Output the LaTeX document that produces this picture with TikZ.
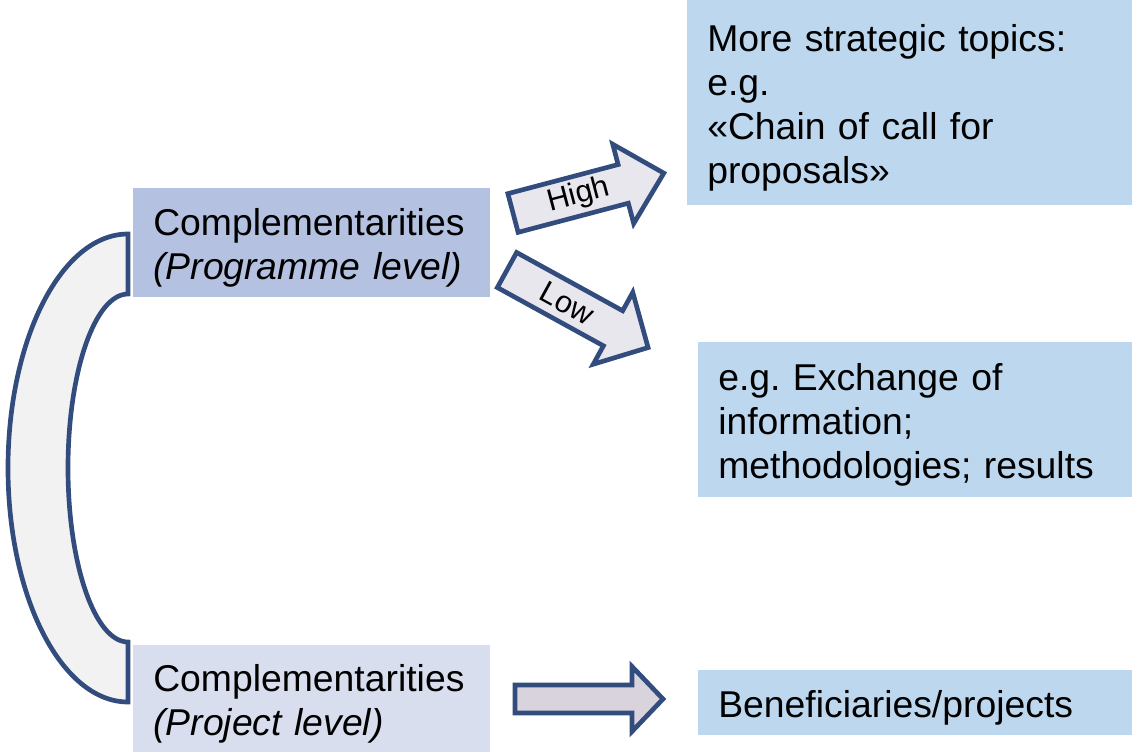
\documentclass[tikz,border=0pt]{standalone}
\usepackage{fontspec}
\setmainfont{Liberation Sans}
\frenchspacing
\definecolor{progfill}{RGB}{180,193,225}
\definecolor{projfill}{RGB}{217,222,239}
\definecolor{rightfill}{RGB}{189,215,238}
\definecolor{arrowblue}{RGB}{50,76,126}
\definecolor{arrowfill}{RGB}{233,231,238}
\definecolor{arrowfilldark}{RGB}{216,211,220}
\definecolor{bracketfill}{RGB}{242,242,242}
\begin{document}
\begin{tikzpicture}[x=0.75pt,y=-0.75pt,
  box/.style={draw=none, inner xsep=15pt, inner ysep=0pt, align=left, anchor=north west,
    text height=28.5pt, font=\fontsize{28}{33}\selectfont},
  blockarrow/.style={draw=arrowblue, line width=3.5pt, line join=miter},
  arrowlabel/.style={font=\fontsize{23}{27}\selectfont, inner sep=0pt}]
\useasboundingbox (0,0) rectangle (1132,753);

% curved bracket (block arc)
\coordinate (bc) at (128,468);
\draw[blockarrow, fill=bracketfill] (128,234)
  arc[start angle=270, end angle=90, x radius=120, y radius=234]
  -- (128,642)
  arc[start angle=90, end angle=270, x radius=60, y radius=174]
  -- cycle;

% left boxes
\node[box, fill=progfill, minimum width=267.75pt, minimum height=81.75pt, text width=237.75pt]
  (prog) at (133,188) {Complementarities\\\textit{(Programme level)}};
\node[box, fill=projfill, minimum width=267.75pt, minimum height=80.25pt, text width=237.75pt]
  (proj) at (133,645) {Complementarities\\\textit{(Project level)}};

% right boxes
\node[box, fill=rightfill, minimum width=333.75pt, minimum height=153.75pt, text width=303.75pt]
  (strat) at (687,0) {More strategic topics:\\e.g.\\«Chain of call for\\proposals»};
\node[box, fill=rightfill, minimum width=325.5pt, minimum height=116.25pt, text width=295.5pt]
  (exch) at (698,342) {e.g. Exchange of\\information;\\methodologies; results};
\node[box, fill=rightfill, minimum width=325.5pt, minimum height=48.75pt, text width=295.5pt]
  (benef) at (698,670) {Beneficiaries/projects};

% High arrow
\coordinate (hiT) at (513,213);
\begin{scope}[shift={(hiT)}, rotate=14.8]
  \draw[blockarrow, fill=arrowfill] (0,-20) -- (114,-20) -- (114,-41) -- (156,0)
    -- (114,41) -- (114,20) -- (0,20) -- cycle;
  \node[arrowlabel, rotate=14.8] (high) at (68,0) {High};
\end{scope}

% Low arrow
\coordinate (loT) at (507,270);
\begin{scope}[shift={(loT)}, rotate=-28.8]
  \draw[blockarrow, fill=arrowfill] (0,-20) -- (121,-20) -- (121,-41) -- (161,0)
    -- (121,41) -- (121,20) -- (0,20) -- cycle;
  \node[arrowlabel, rotate=-28.8] (low) at (69,0) {Low};
\end{scope}

% bottom arrow
\coordinate (bT) at (515,699);
\begin{scope}[shift={(bT)}]
  \draw[blockarrow, fill=arrowfilldark] (0,-14) -- (117,-14) -- (117,-32.5) -- (148,0)
    -- (117,32.5) -- (117,14) -- (0,14) -- cycle;
\end{scope}
\end{tikzpicture}
\end{document}
